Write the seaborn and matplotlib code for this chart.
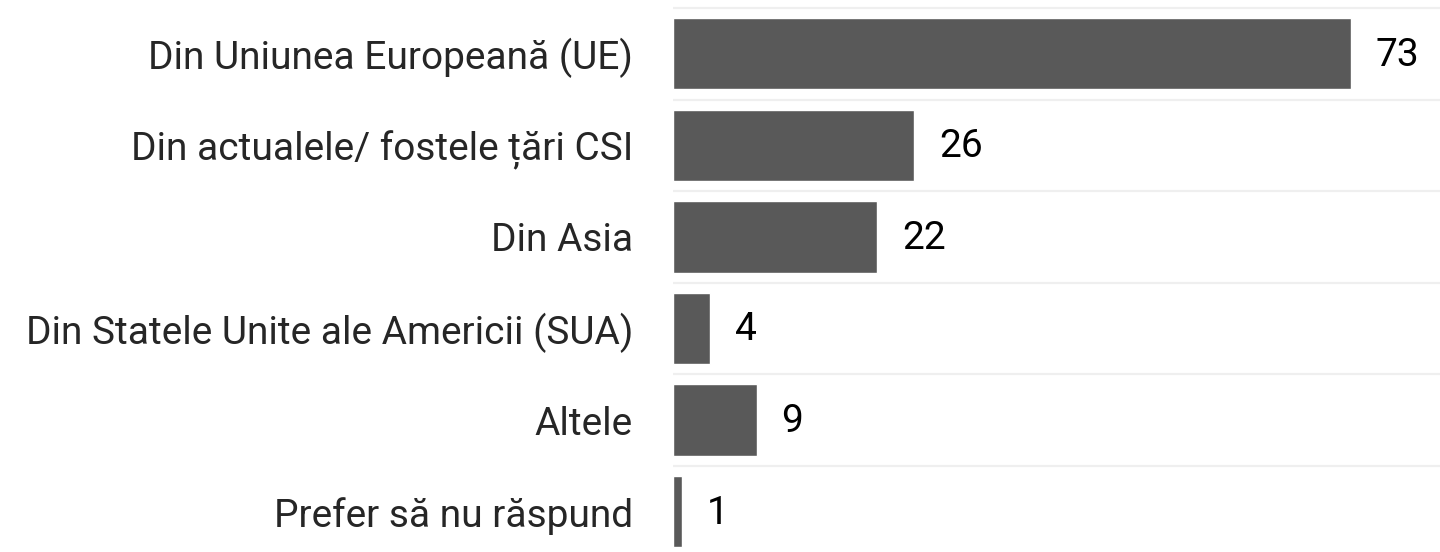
import pandas as pd
import matplotlib
matplotlib.use("Agg")
import matplotlib.pyplot as plt
import seaborn as sns

categories = [
    "Din Uniunea Europeană (UE)",
    "Din actualele/ fostele țări CSI",
    "Din Asia",
    "Din Statele Unite ale Americii (SUA)",
    "Altele",
    "Prefer să nu răspund",
]
values = [73, 26, 22, 4, 9, 1]

df = pd.DataFrame({"cat": categories, "val": values})

sns.set_style("white")
plt.rcParams["font.family"] = ["Roboto", "DejaVu Sans"]

fig = plt.figure(figsize=(14.4, 5.52), dpi=100)
ax = fig.add_axes([673 / 1440, 0, 767 / 1440, 1])

sns.barplot(data=df, x="val", y="cat", orient="h", color="#595959",
            width=0.78, saturation=1, ax=ax)

# value labels to the right of each bar
for i, v in enumerate(values):
    ax.annotate(str(v), xy=(v, i), xytext=(25 / 100 * 72, -1),
                textcoords="offset points", va="center", ha="left",
                fontsize=28, color="black")

ax.set_xlim(0, 82.6)
ax.set_ylim(5.44, -0.587)
ax.set_xlabel("")
ax.set_ylabel("")
ax.set_xticks([])
ax.tick_params(axis="y", length=0, pad=28.8, labelsize=28)

# light separators between the categories
ax.set_yticks([i - 0.5 for i in range(len(categories))], minor=True)
ax.grid(True, which="minor", axis="y", color="#efefef", linewidth=1.6)
ax.set_axisbelow(True)
sns.despine(ax=ax, left=True, bottom=True)

fig.savefig("out.png", dpi=100)
